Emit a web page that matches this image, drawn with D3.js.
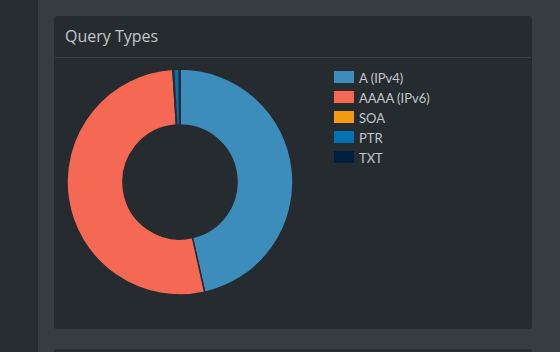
<!DOCTYPE html>
<html>
<head>
<meta charset="utf-8">
<script src="https://cdn.jsdelivr.net/npm/d3@7"></script>
<style>
  html, body { margin: 0; padding: 0; background: #353c42; }
  body { width: 560px; height: 352px; overflow: hidden; }
</style>
</head>
<body>
<div id="chart"></div>
<script>
var types = ["A (IPv4)", "AAAA (IPv6)", "SOA", "PTR", "TXT"];
var shares = [46.5, 52.5, 0.1, 0.8, 0.1];
var colors = ["#3c8dbc", "#f56954", "#f39c12", "#0073b7", "#001f3f"];

var width = 560,
    height = 352;

var svg = d3.select("#chart")
    .append("svg")
    .attr("width", width)
    .attr("height", height);

// sidebar strip on the left
svg.append("rect")
    .attr("width", 38)
    .attr("height", height)
    .style("fill", "#272c30");

// card
svg.append("rect")
    .attr("x", 54).attr("y", 16)
    .attr("width", 478).attr("height", 313)
    .attr("rx", 3)
    .style("fill", "#262b2f");

// next card peeking at the bottom
svg.append("rect")
    .attr("x", 54).attr("y", 349)
    .attr("width", 478).attr("height", 20)
    .attr("rx", 3)
    .style("fill", "#262b2f");

svg.append("line")
    .attr("x1", 55).attr("x2", 531)
    .attr("y1", 57.5).attr("y2", 57.5)
    .style("stroke", "#3a4045");

svg.append("text")
    .attr("x", 65)
    .attr("y", 42)
    .text("Query Types")
    .style("font-family", "'Open Sans', sans-serif")
    .style("font-size", "16px")
    .style("fill", "#c2c7cc");

// donut
var pie = d3.pie().sort(null).value(function(d) { return d; });
var arc = d3.arc().innerRadius(57).outerRadius(113);

var g = svg.append("g")
    .attr("transform", "translate(180,182)");

g.selectAll("path")
    .data(pie(shares))
    .enter()
    .append("path")
    .attr("d", arc)
    .style("fill", function(d, i) { return colors[i]; })
    .style("stroke", "#262b2f")
    .style("stroke-width", 1.5);

// legend
var legend = svg.append("g")
    .attr("transform", "translate(334,71)");

types.forEach(function(t, i) {
    var item = legend.append("g")
        .attr("transform", "translate(0," + (i * 20) + ")");

    item.append("rect")
        .attr("width", 20)
        .attr("height", 12)
        .style("fill", colors[i]);

    item.append("text")
        .attr("x", 25)
        .attr("y", 11.5)
        .text(t)
        .style("font-family", "Lato, sans-serif")
        .style("font-size", "13px")
        .style("fill", "#c2c7cc");
});
</script>
</body>
</html>
